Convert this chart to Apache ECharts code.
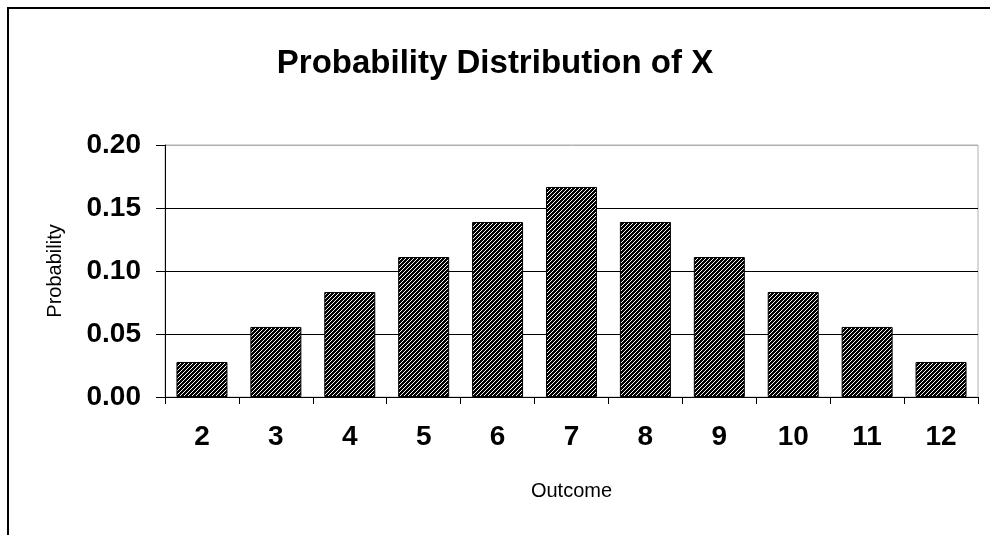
<!DOCTYPE html>
<html><head><meta charset="utf-8">
<script src="https://cdn.jsdelivr.net/npm/echarts@6/dist/echarts.min.js"></script>
<style>html,body{margin:0;padding:0;background:#fff}#c{width:990px;height:535px}</style>
</head><body><div id="c"></div>
<script>
const categories = ['2','3','4','5','6','7','8','9','10','11','12'];
const probabilities = [0.0278,0.0556,0.0833,0.1111,0.1389,0.1667,0.1389,0.1111,0.0833,0.0556,0.0278];
const yTicks = [0, 0.05, 0.10, 0.15, 0.20];

const pc = document.createElement('canvas');
pc.width = 4; pc.height = 4;
const ctx = pc.getContext('2d');
const img = ctx.createImageData(4,4);
for (let y=0;y<4;y++) for (let x=0;x<4;x++){
  const i=(y*4+x)*4;
  const white = (x+y)%4===3;
  const v = white ? 250 : 0;
  img.data[i]=v;img.data[i+1]=v;img.data[i+2]=v;img.data[i+3]=255;
}
ctx.putImageData(img,0,0);

const chart = echarts.init(document.getElementById('c'), null, {renderer:'canvas'});
const font = '"Liberation Sans", Arial, sans-serif';
chart.setOption({
  animation:false,
  textStyle:{fontFamily:font},
  title:{text:'Probability Distribution of X', left:490, top:42, textAlign:'center',
    textStyle:{fontFamily:font,fontSize:33,fontWeight:'bold',color:'#000'}},
  graphic:[{type:'rect',shape:{x:8,y:8,width:1100,height:700},style:{fill:'none',stroke:'#000',lineWidth:2},silent:true,z:-1}],
  grid:{left:165,right:12,top:145,bottom:138,show:true,borderColor:'#b0b0b0',borderWidth:1,backgroundColor:'transparent'},
  xAxis:{type:'category',data:categories,
    name:'Outcome',nameLocation:'middle',nameGap:84,
    nameTextStyle:{fontFamily:font,fontSize:20,color:'#000'},
    axisLine:{lineStyle:{color:'#000',width:1}},
    axisTick:{show:true,length:7,lineStyle:{color:'#000'}},
    axisLabel:{fontFamily:font,fontSize:28,fontWeight:'bold',color:'#000',margin:26}},
  yAxis:{type:'value',min:yTicks[0],max:yTicks[yTicks.length-1],interval:0.05,
    name:'Probability',nameLocation:'middle',nameGap:100,nameRotate:90,
    nameTextStyle:{fontFamily:font,fontSize:20,color:'#000'},
    axisLine:{show:true,lineStyle:{color:'#000',width:1}},
    axisTick:{show:true,length:9,lineStyle:{color:'#000'}},
    splitLine:{show:true,lineStyle:{color:['#000','#000','#000','#000','#b0b0b0'],width:1}},
    axisLabel:{fontFamily:font,fontSize:28,fontWeight:'bold',color:'#000',margin:24,
      formatter:v=>v.toFixed(2)}},
  series:[{type:'bar',data:probabilities,barCategoryGap:'31%',
    itemStyle:{color:{image:pc,repetition:'repeat'},borderColor:'#000',borderWidth:1}}]
});
</script></body></html>
